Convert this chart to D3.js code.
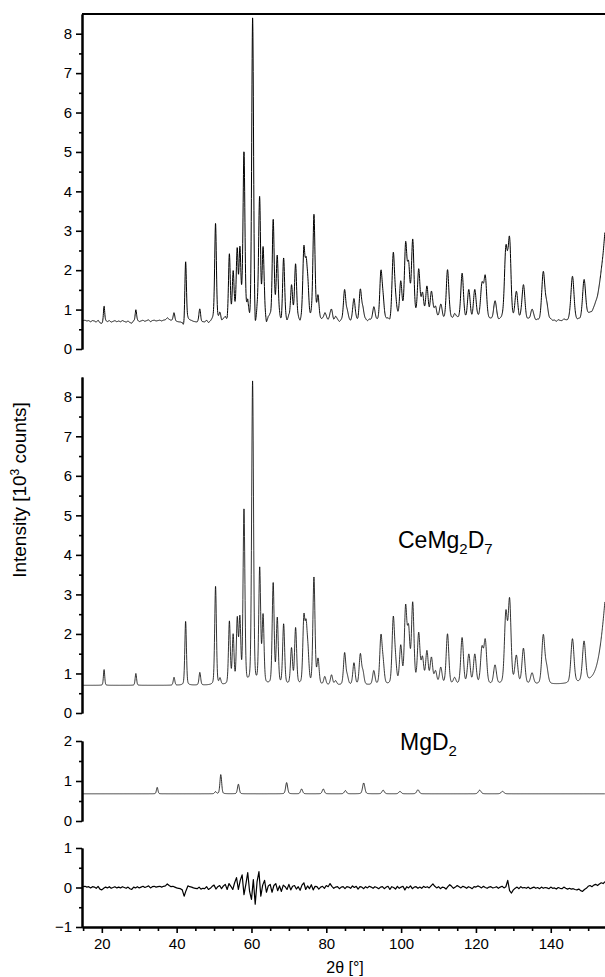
<!DOCTYPE html>
<html>
<head>
<meta charset="utf-8">
<script src="https://cdn.jsdelivr.net/npm/d3@7"></script>
<style>
  body { margin: 0; background: #fff; }
  text { font-family: "Liberation Sans", Arial, sans-serif; fill: #000; }
</style>
</head>
<body>
<svg id="drawing_region"></svg>
<script>
// ---- data ----
const angleDomain = [14.7, 154.5];
const xTickLabels = [20, 40, 60, 80, 100, 120, 140];

// CeMg2D7 reflections: 2theta and calculated height above background (10^3 counts)
const cePeakPos = [20.6, 29.1, 39.3, 42.4, 46.2, 50.4, 51.6, 54.1, 55.1, 56.2, 56.9, 58.0, 60.3,
  62.2, 63.1, 65.8, 66.9, 68.6, 70.7, 71.8, 74.0, 74.6, 75.1, 76.7, 77.8, 79.6, 81.4, 82.5,
  84.9, 85.6, 87.4, 89.1, 89.8, 92.7, 94.6, 95.2, 97.9, 98.5, 99.9, 101.2, 102.0, 103.1,
  104.7, 105.7, 106.9, 108.1, 109.2, 110.6, 112.4, 114.3, 116.3, 118.1, 119.7, 121.6, 122.5,
  125.1, 128.0, 129.0, 130.8, 132.7, 135.0, 138.0, 138.9, 145.8, 148.9, 157.0];
const cePeakHeight = [0.40, 0.30, 0.20, 1.62, 0.32, 2.50, 0.15, 1.58, 1.22, 1.60, 1.60, 4.40, 7.65,
  2.90, 1.70, 2.55, 1.65, 1.52, 0.90, 1.42, 1.60, 1.30, 0.70, 2.70, 0.62, 0.20, 0.25, 0.10,
  0.80, 0.20, 0.55, 0.76, 0.30, 0.35, 1.18, 0.47, 1.62, 0.47, 0.94, 1.88, 1.30, 2.02,
  1.26, 0.64, 0.82, 0.66, 0.32, 0.42, 1.28, 0.16, 1.18, 0.75, 0.75, 0.88, 1.08,
  0.48, 1.75, 2.08, 0.70, 0.90, 0.28, 1.22, 0.38, 1.12, 1.02, 4.30];
const ceBackground = 0.70;

// MgD2 reflections
const mgPeakPos = [34.8, 50.4, 51.8, 56.5, 69.4, 73.4, 79.2, 85.1, 90.0, 95.2, 99.7, 104.5, 121.0, 127.1];
const mgPeakHeight = [0.16, 0.05, 0.48, 0.24, 0.28, 0.12, 0.12, 0.08, 0.27, 0.09, 0.06, 0.10, 0.09, 0.06];
const mgBackground = 0.68;

// observed minus calculated, every 0.5 degree from 15 to 155
const diffStart = 15;
const diffStep = 0.5;
const diffValues = [
  0.02, 0.03, 0.01, 0.02, -0.01, 0.02, 0.01, -0.02, 0.03, -0.04, -0.06, -0.02, 0.01, -0.01, 0.02, -0.02, 0.00, 0.02, -0.01, 0.01,
  -0.01, 0.02, 0.00, -0.02, 0.01, -0.03, -0.05, 0.01, -0.01, 0.02, -0.01, 0.01, 0.03, 0.00, 0.02, 0.04, -0.01, 0.02, 0.03, 0.01,
  0.02, 0.03, 0.01, 0.03, 0.04, 0.09, 0.05, 0.02, 0.03, 0.01, -0.01, -0.02, -0.03, -0.06, -0.22, -0.08, 0.04, 0.02, 0.01, -0.01,
  -0.02, -0.03, 0.01, -0.04, -0.02, -0.03, 0.02, -0.05, -0.02, 0.03, 0.06, -0.04, 0.02, 0.05, -0.03, 0.04, 0.08, -0.05, 0.10, 0.03,
  -0.05, 0.12, 0.25, -0.05, 0.18, 0.32, -0.18, 0.08, 0.38, -0.10, -0.30, 0.20, -0.42, 0.15, 0.40, -0.22, 0.06, 0.18, -0.12, 0.04,
  0.08, -0.12, 0.05, 0.10, -0.08, 0.04, -0.10, 0.06, 0.02, -0.05, 0.08, -0.06, 0.03, 0.05, -0.04, 0.02, -0.07, 0.06, 0.12, -0.05,
  0.04, -0.03, 0.07, -0.06, 0.03, 0.02, -0.04, 0.01, 0.03, -0.02, 0.05, 0.02, 0.10, 0.03, -0.02, 0.01, 0.02, -0.03, 0.01, 0.02,
  -0.03, 0.02, 0.01, -0.02, 0.04, 0.00, 0.03, -0.04, 0.02, 0.01, -0.03, 0.02, -0.01, 0.03, 0.01, -0.02, 0.02, 0.00, -0.03, 0.01,
  0.02, -0.03, 0.01, 0.03, -0.05, 0.02, 0.00, -0.04, 0.03, -0.02, 0.01, 0.03, -0.06, 0.02, -0.01, 0.04, -0.03, 0.01, 0.02, -0.02,
  0.01, -0.02, 0.03, 0.00, 0.02, -0.01, 0.04, 0.09, 0.03, -0.01, 0.02, -0.03, 0.01, 0.00, -0.04, 0.02, 0.07, 0.03, -0.02, 0.01,
  0.05, 0.02, -0.01, 0.03, 0.01, -0.02, 0.02, 0.00, -0.03, 0.02, 0.01, 0.04, 0.02, -0.01, 0.03, 0.00, -0.02, 0.01, 0.02, -0.01,
  0.00, 0.02, -0.02, 0.01, 0.03, -0.01, 0.02, 0.18, -0.08, -0.14, -0.06, -0.02, 0.01, -0.03, 0.02, -0.01, 0.00, -0.02, 0.01, -0.03,
  -0.01, 0.01, -0.02, 0.00, -0.03, 0.01, -0.02, 0.00, -0.01, -0.03, 0.01, -0.02, -0.01, -0.04, 0.00, -0.02, -0.03, 0.01, -0.02, -0.04,
  -0.02, -0.04, -0.03, -0.05, -0.06, -0.04, -0.08, -0.10, -0.05, -0.02, 0.03, 0.05, 0.02, 0.06, 0.08, 0.05, 0.09, 0.12, 0.10, 0.15,
  0.18
];

// ---- layout ----
const W = 605, H = 977;
const svg = d3.select('#drawing_region').attr('width', W).attr('height', H);

const x = d3.scaleLinear().domain(angleDomain).range([82, 605]);

const panels = [
  { name: 'obs',  domain: [0, 8.5], range: [349, 14],  majors: d3.range(0, 9),  minors: d3.range(0.5, 8.5, 1) },
  { name: 'calc', domain: [0, 8.5], range: [713, 377], majors: d3.range(0, 9),  minors: d3.range(0.5, 8.5, 1) },
  { name: 'mg',   domain: [0, 2],   range: [821, 741], majors: [0, 1, 2],       minors: [0.5, 1.5] },
  { name: 'diff', domain: [-1, 1],  range: [927, 848], majors: [-1, 0, 1],      minors: [-0.5, 0.5] }
];
panels.forEach(p => { p.y = d3.scaleLinear().domain(p.domain).range(p.range); });

// peak profile (pseudo-Voigt), width growing slowly with angle
function profile(pos, heights, bg, t) {
  let s = bg;
  for (let i = 0; i < pos.length; i++) {
    const w = pos[i] > 155 ? 5 : 0.38 + 0.0045 * (pos[i] - 15);
    const u = (t - pos[i]) / w;
    if (Math.abs(u) > 30) continue;
    const g = Math.exp(-4 * Math.LN2 * u * u);
    const l = 1 / (1 + 4 * u * u);
    s += heights[i] * (0.75 * g + 0.25 * l);
  }
  return s;
}
function diffAt(t) {
  const k = (t - diffStart) / diffStep;
  const i = Math.max(0, Math.min(diffValues.length - 2, Math.floor(k)));
  const f = k - i;
  return diffValues[i] * (1 - f) + diffValues[i + 1] * f;
}

const grid = d3.range(angleDomain[0], angleDomain[1], 0.04);
const calcData = grid.map(t => ({ t: t, v: profile(cePeakPos, cePeakHeight, ceBackground, t) }));
const obsData = calcData.map(d => ({ t: d.t, v: d.v + diffAt(d.t) }));
const mgData = grid.map(t => ({ t: t, v: profile(mgPeakPos, mgPeakHeight, mgBackground, t) }));
const diffData = diffValues.map((v, i) => ({ t: diffStart + i * diffStep, v: v }))
  .filter(d => d.t >= angleDomain[0] && d.t <= angleDomain[1]);

svg.append('defs').append('clipPath').attr('id', 'plotclip')
  .append('rect').attr('x', 82).attr('y', 0).attr('width', 523).attr('height', H);

const series = [
  { p: panels[0], data: obsData,  width: 1.0 },
  { p: panels[1], data: calcData, width: 0.8 },
  { p: panels[2], data: mgData,   width: 0.8 },
  { p: panels[3], data: diffData, width: 1.2 }
];
series.forEach(s => {
  const line = d3.line().x(d => x(d.t)).y(d => s.p.y(d.v));
  svg.append('path')
    .datum(s.data)
    .attr('clip-path', 'url(#plotclip)')
    .attr('fill', 'none')
    .attr('stroke', '#000')
    .attr('stroke-width', s.width)
    .attr('stroke-linejoin', 'round')
    .attr('d', line);
});

// ---- y axes ----
panels.forEach(p => {
  const g = svg.append('g').attr('transform', 'translate(82,0)');
  g.call(d3.axisLeft(p.y).tickValues(p.minors).tickSize(3).tickSizeOuter(0).tickFormat(''));
  const gm = svg.append('g').attr('transform', 'translate(82,0)');
  gm.call(d3.axisLeft(p.y).tickValues(p.majors).tickSize(6).tickSizeOuter(0).tickPadding(4).tickFormat(d3.format('d')));
  [g, gm].forEach(a => {
    a.select('.domain').attr('stroke-width', 2);
    a.selectAll('.tick line').attr('stroke-width', 1.6);
    a.selectAll('.tick text').style('font-size', '15px');
  });
});

// top frame line of the first panel
svg.append('line')
  .attr('x1', 82).attr('x2', 605)
  .attr('y1', panels[0].y(8.5)).attr('y2', panels[0].y(8.5))
  .attr('stroke', '#000').attr('stroke-width', 2);

// ---- x axis ----
const xMinor = d3.range(15, 155, 5).filter(v => v % 20 !== 0);
const xa = svg.append('g').attr('transform', 'translate(0,927)');
xa.call(d3.axisBottom(x).tickValues(xMinor).tickSize(4).tickSizeOuter(0).tickFormat(''));
const xb = svg.append('g').attr('transform', 'translate(0,927)');
xb.call(d3.axisBottom(x).tickValues(xTickLabels).tickSize(6).tickSizeOuter(0).tickPadding(5).tickFormat(d3.format('d')));
[xa, xb].forEach(a => {
  a.select('.domain').attr('stroke-width', 2);
  a.selectAll('.tick line').attr('stroke-width', 1.6);
  a.selectAll('.tick text').style('font-size', '15px');
});

// ---- labels ----
svg.append('text')
  .attr('x', 345).attr('y', 973)
  .attr('text-anchor', 'middle')
  .style('font-size', '16px')
  .text('2θ [°]');

const yl = svg.append('text')
  .attr('transform', 'translate(26,490) rotate(-90)')
  .attr('text-anchor', 'middle')
  .style('font-size', '19px');
yl.append('tspan').text('Intensity [10');
yl.append('tspan').attr('dy', -7).style('font-size', '12px').text('3');
yl.append('tspan').attr('dy', 7).text(' counts]');

const ce = svg.append('text').attr('x', 398).attr('y', 548).style('font-size', '23px');
ce.append('tspan').text('CeMg');
ce.append('tspan').attr('dy', 6).style('font-size', '15px').text('2');
ce.append('tspan').attr('dy', -6).text('D');
ce.append('tspan').attr('dy', 6).style('font-size', '15px').text('7');

const mg = svg.append('text').attr('x', 400).attr('y', 750).style('font-size', '23px');
mg.append('tspan').text('MgD');
mg.append('tspan').attr('dy', 6).style('font-size', '15px').text('2');
</script>
</body>
</html>
